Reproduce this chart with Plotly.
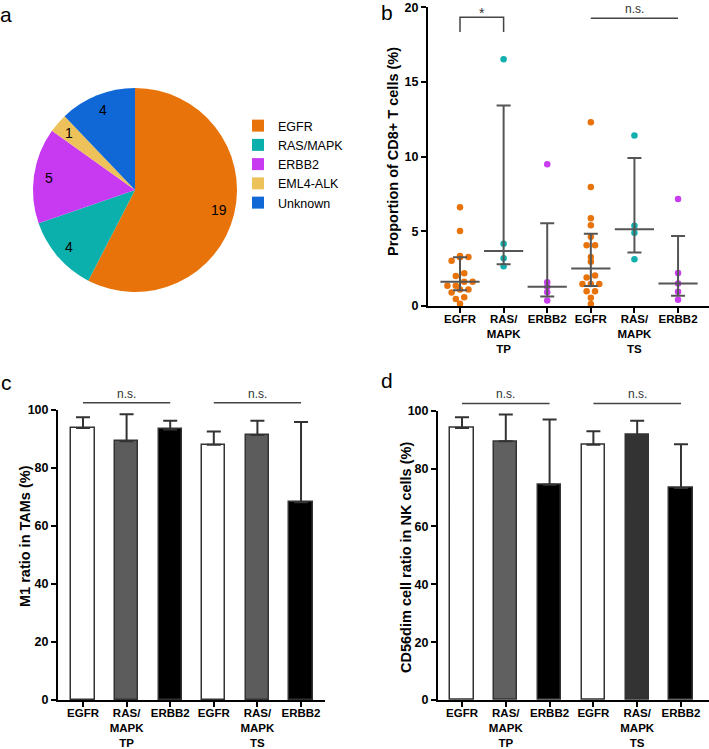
import numpy as np
import plotly.graph_objects as go

W, H = 709, 749
FONT = "Arial, 'Liberation Sans', Helvetica, sans-serif"

# a: driver alterations
pie_labels = ["EGFR", "RAS/MAPK", "ERBB2", "EML4-ALK", "Unknown"]
pie_counts = [19, 4, 5, 1, 4]
pie_colors = ["#E8730A", "#0BAFAC", "#C73AF2", "#EEC25A", "#1068D6"]

# b/c/d: six groups, TP = tumour parenchyma, TS = tumour stroma
tick_text = ["EGFR", "RAS/<br>MAPK<br>TP", "ERBB2", "EGFR", "RAS/<br>MAPK<br>TS", "ERBB2"]
group_colors = ["#E8730A", "#11B0AE", "#C93CF0", "#E8730A", "#11B0AE", "#C93CF0"]

# b: proportion of CD8+ T cells (%)
cd8_egfr_tp = [6.61, 5.02, 3.35, 3.28, 3.26, 3.03, 2.19, 2.01, 1.63, 1.63,
               1.36, 1.36, 1.10, 1.10, 0.90, 0.58, 0.47, 0.15]
cd8_ras_tp = [16.52, 4.17, 3.19, 2.66]
cd8_erbb2_tp = [9.49, 1.59, 1.29, 0.92, 0.36]
cd8_egfr_ts = [12.30, 7.97, 5.87, 5.40, 4.64, 4.06, 4.06, 3.28, 2.97, 2.05,
               1.90, 1.47, 1.47, 1.47, 0.98, 0.98, 0.56, 0.13]
cd8_ras_ts = [11.41, 5.38, 4.91, 3.13]
cd8_erbb2_ts = [7.17, 2.21, 1.50, 0.96, 0.42]
cd8_groups = [cd8_egfr_tp, cd8_ras_tp, cd8_erbb2_tp, cd8_egfr_ts, cd8_ras_ts, cd8_erbb2_ts]

# c: M1 ratio in TAMs (%), mean + SD
m1_mean = [93.8, 89.2, 93.3, 88.0, 91.4, 68.2]
m1_sd = [3.7, 9.3, 3.0, 4.6, 4.9, 27.7]
m1_colors = ["white", "#5C5C5C", "black", "white", "#5C5C5C", "black"]

# d: CD56dim ratio in NK cells (%), mean + SD
nk_mean = [94.0, 89.4, 74.4, 88.2, 91.6, 73.3]
nk_sd = [3.7, 9.3, 22.6, 4.7, 4.9, 15.1]
nk_colors = ["white", "#606060", "black", "white", "#333333", "black"]


def px(x):
    return x / W


def py(y):
    return 1 - y / H


def swarm(vals, row_gap=0.3, spacing=0.193):
    # group close values into rows, spread each row symmetrically
    order = np.argsort(vals)
    offs = np.zeros(len(vals))
    rows, cur = [], [order[0]]
    for i in order[1:]:
        if vals[i] - vals[cur[0]] < row_gap:
            cur.append(i)
        else:
            rows.append(cur)
            cur = [i]
    rows.append(cur)
    for r in rows:
        n = len(r)
        for k, i in enumerate(r):
            offs[i] = (k - (n - 1) / 2) * spacing
    return offs


fig = go.Figure()

# ---- a: pie (counts written on each slice's mid-angle)
PIE_L, PIE_R, PIE_T, PIE_B = 33, 237, 88, 292
fig.add_trace(go.Pie(
    labels=pie_labels, values=pie_counts, sort=False, direction="clockwise", rotation=0,
    marker=dict(colors=pie_colors, line=dict(width=0)),
    textinfo="none",
    domain=dict(x=[px(PIE_L), px(PIE_R)], y=[py(PIE_B), py(PIE_T)]),
    hoverinfo="label+value",
))
pie_annos = []
cx, cy, rad = (PIE_L + PIE_R) / 2, (PIE_T + PIE_B) / 2, (PIE_R - PIE_L) / 2
cum = np.cumsum([0] + pie_counts) / sum(pie_counts)
for k, n in enumerate(pie_counts):
    ang = np.pi * (cum[k] + cum[k + 1])
    pie_annos.append(dict(x=px(cx + 0.85 * rad * np.sin(ang)), y=py(cy - 0.85 * rad * np.cos(ang)),
                          xref="paper", yref="paper", text=str(n), showarrow=False,
                          xanchor="center", yanchor="middle",
                          font=dict(size=14, color="black")))

# ---- b: scatter with median + IQR
for g, vals in enumerate(cd8_groups):
    v = np.array(vals)
    xs = g + swarm(v)
    fig.add_trace(go.Scatter(
        x=xs, y=v, mode="markers", xaxis="x", yaxis="y", showlegend=False,
        marker=dict(size=6.5, color=group_colors[g]), cliponaxis=False,
    ))
    q1, med, q3 = np.percentile(v, [25, 50, 75], method="weibull")
    fig.add_trace(go.Scatter(
        x=[g], y=[med], mode="markers", xaxis="x", yaxis="y", showlegend=False,
        marker=dict(symbol="line-ew", size=28, line=dict(width=2, color="#555555")),
        error_y=dict(type="data", symmetric=False, array=[q3 - med], arrayminus=[med - q1],
                     width=7, thickness=2, color="#555555"),
    ))

# ---- c, d: bars with SD
for means, sds, cols, xa, ya in [(m1_mean, m1_sd, m1_colors, "x2", "y2"),
                                  (nk_mean, nk_sd, nk_colors, "x3", "y3")]:
    fig.add_trace(go.Bar(
        x=list(range(6)), y=means, width=0.53, xaxis=xa, yaxis=ya, showlegend=False,
        marker=dict(color=cols, line=dict(color="#333333", width=1.5)),
        error_y=dict(type="data", symmetric=False, array=sds, arrayminus=[0] * 6,
                     width=7, thickness=2, color="#333333"),
    ))

tickfont = dict(size=12.5, color="black", family=FONT, weight="bold")
xtickfont = dict(size=11.5, color="black", family=FONT, weight="bold")
titlefont = dict(size=14.5, color="black", family=FONT, weight="bold")
common_x = dict(showline=True, linecolor="black", linewidth=2, ticks="outside", ticklen=5,
                tickwidth=2, tickcolor="black", tickmode="array", tickvals=list(range(6)),
                ticktext=tick_text, tickfont=xtickfont, showgrid=False, zeroline=False,
                automargin=False, ticklabelstandoff=-4)
common_y = dict(showline=True, linecolor="black", linewidth=2, ticks="outside", ticklen=5,
                tickwidth=2, tickcolor="black", tickfont=tickfont, showgrid=False, zeroline=False,
                automargin=False)

fig.update_layout(
    template="none",
    width=W, height=H, margin=dict(l=0, r=0, t=0, b=0, pad=0),
    paper_bgcolor="white", plot_bgcolor="white",
    font=dict(family=FONT, color="black"),
    bargap=0,
    legend=dict(x=px(238), y=py(111), xanchor="left", yanchor="top",
                font=dict(size=12.5, family=FONT, color="black"), tracegroupgap=0),
    xaxis=dict(common_x, domain=[px(428), 1], range=[-0.734, 5.71], anchor="y"),
    yaxis=dict(common_y, domain=[py(306), py(7.3)], range=[0, 20], tickvals=[0, 5, 10, 15, 20],
               anchor="x"),
    xaxis2=dict(common_x, domain=[px(58), px(325)], range=[-0.573, 5.55], anchor="y2"),
    yaxis2=dict(common_y, domain=[py(700), py(410)], range=[0, 100], tickvals=[0, 20, 40, 60, 80, 100],
                anchor="x2"),
    xaxis3=dict(common_x, domain=[px(438), 1], range=[-0.548, 5.64], anchor="y3"),
    yaxis3=dict(common_y, domain=[py(700), py(410.7)], range=[0, 100], tickvals=[0, 20, 40, 60, 80, 100],
                anchor="x3"),
)

shapes = []
annos = list(pie_annos)

# y-axis titles
for text, x, y in [("Proportion of CD8+ T cells (%)", 393, 152),
                   ("M1 ratio in TAMs (%)", 25, 536),
                   ("CD56dim cell ratio in NK cells (%)", 406, 558)]:
    annos.append(dict(x=px(x), y=py(y), xref="paper", yref="paper", text=text, textangle=-90,
                      showarrow=False, xanchor="center", yanchor="middle", font=titlefont))

# b: bracket with * between EGFR TP and RAS/MAPK TP, n.s. line over TS
shapes.append(dict(type="path", xref="x", yref="y", path="M0,18.35 L0,19.33 L1,19.33 L1,18.35",
                   line=dict(color="#444444", width=1.5)))
annos.append(dict(x=0.5, y=19.33, xref="x", yref="y", text="*", showarrow=False,
                  yanchor="bottom", yshift=-6, font=dict(size=14, color="#333333")))
shapes.append(dict(type="line", xref="x", yref="y", x0=3, x1=5, y0=19.26, y1=19.26,
                   line=dict(color="#444444", width=1.5)))
annos.append(dict(x=4, y=19.26, xref="x", yref="y", text="n.s.", showarrow=False,
                  yanchor="bottom", font=dict(size=12, color="#333333")))
# c, d: n.s. lines above the plots
for xa, yd in [("x2", "y2 domain"), ("x3", "y3 domain")]:
    for a, b in [(0, 2), (3, 5)]:
        shapes.append(dict(type="line", xref=xa, yref=yd, x0=a, x1=b, y0=1.025, y1=1.025,
                           line=dict(color="#444444", width=1.5)))
        annos.append(dict(x=(a + b) / 2, y=1.025, xref=xa, yref=yd, text="n.s.", showarrow=False,
                          yanchor="bottom", font=dict(size=12, color="#333333")))

# panel letters
for letter, x, y in [("a", 6, 14), ("b", 387, 13), ("c", 6, 382), ("d", 387, 380)]:
    annos.append(dict(x=px(x), y=py(y), xref="paper", yref="paper", text=letter, showarrow=False,
                      xanchor="center", yanchor="middle", font=dict(size=21, color="black")))

fig.update_layout(shapes=shapes, annotations=annos)
# page body has an 8px default margin; drop it so the figure fills the window
fig.write_html("out.html", config={"displayModeBar": False},
               post_script="document.body.style.margin='0';")
